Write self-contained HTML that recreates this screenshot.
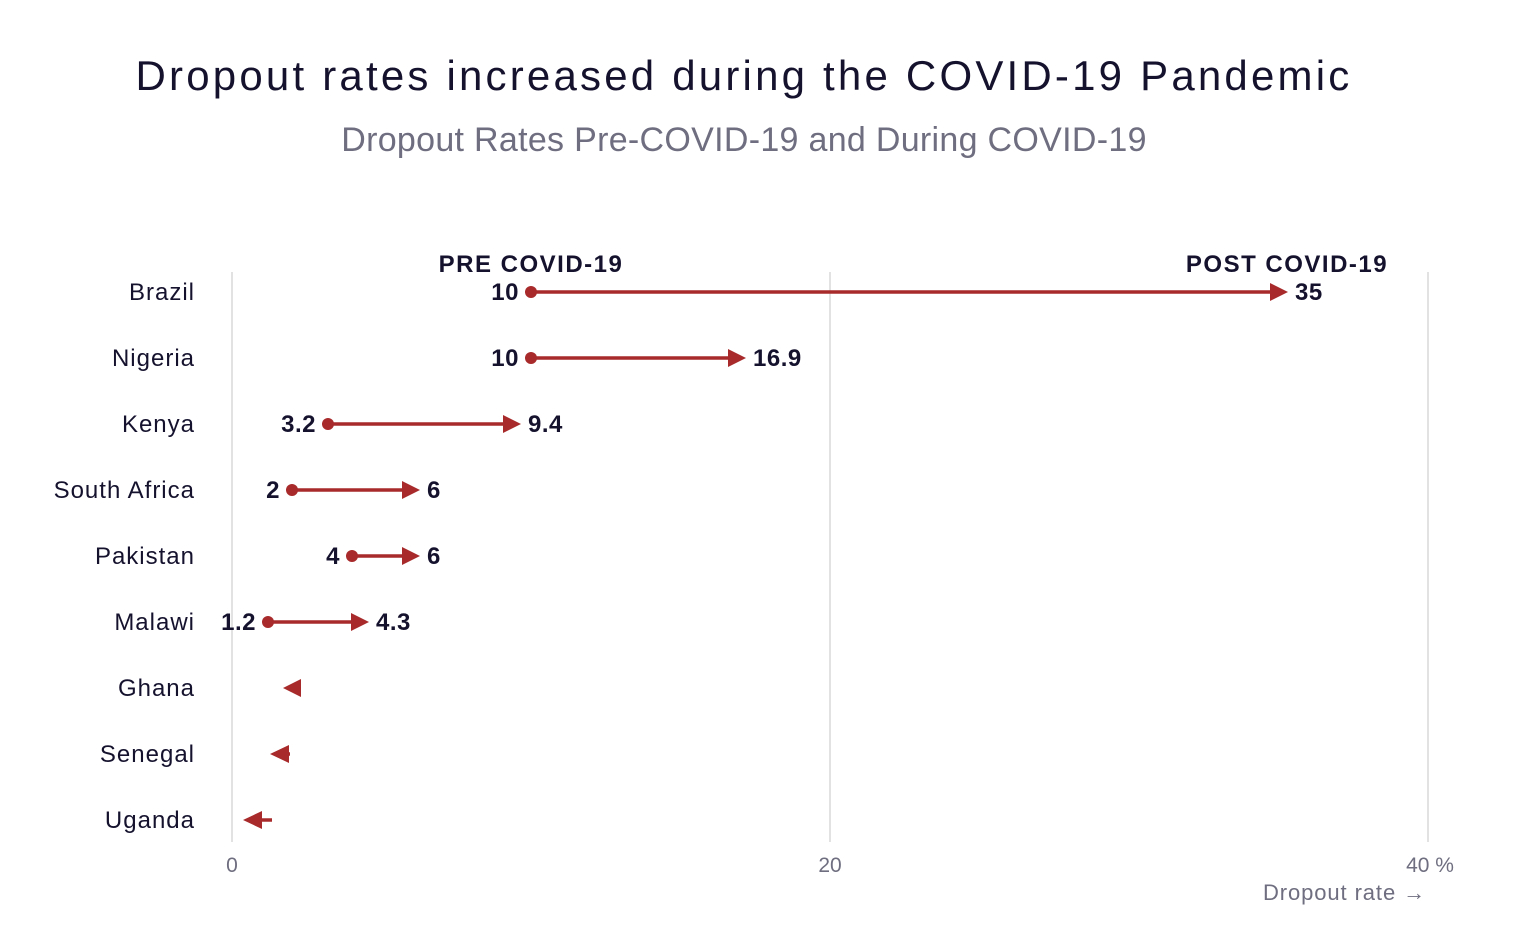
<!DOCTYPE html>
<html><head><meta charset="utf-8"><style>
html,body{margin:0;padding:0;background:#fff;}
svg{display:block;font-family:"Liberation Sans",sans-serif;}
</style></head><body>
<svg width="1532" height="934" viewBox="0 0 1532 934">
<text x="744" y="90" text-anchor="middle" font-size="42" fill="#15122e" letter-spacing="3.2">Dropout rates increased during the COVID-19 Pandemic</text>
<text x="744" y="151" text-anchor="middle" font-size="34" fill="#6e6e80" letter-spacing="0.3">Dropout Rates Pre-COVID-19 and During COVID-19</text>
<g stroke="#e2e2e2" stroke-width="2">
<line x1="232" y1="272" x2="232" y2="842"/>
<line x1="830" y1="272" x2="830" y2="842"/>
<line x1="1428" y1="272" x2="1428" y2="842"/>
</g>
<g font-size="21" fill="#6e6e80" text-anchor="middle">
<text x="232" y="872">0</text><text x="830" y="872">20</text><text x="1430" y="872">40 %</text>
<text x="1426" y="900" text-anchor="end" font-size="22" letter-spacing="0.9">Dropout rate →</text>
</g>
<g font-size="24" fill="#15122e" font-weight="bold" letter-spacing="1.5">
<text x="531" y="272" text-anchor="middle">PRE COVID-19</text>
<text x="1287" y="272" text-anchor="middle">POST COVID-19</text>
</g>
<g font-size="24" fill="#15122e" text-anchor="end" letter-spacing="1">
<text x="195" y="300">Brazil</text><text x="195" y="366">Nigeria</text><text x="195" y="432">Kenya</text>
<text x="195" y="498">South Africa</text><text x="195" y="564">Pakistan</text><text x="195" y="630">Malawi</text>
<text x="195" y="696">Ghana</text><text x="195" y="762">Senegal</text><text x="195" y="828">Uganda</text>
</g>
<g stroke="#a82a2a" stroke-width="3.5" fill="#a82a2a">
<line x1="531" y1="292" x2="1272" y2="292"/><circle cx="531" cy="292" r="6" stroke="none"/><polygon points="1270,283 1288,292 1270,301" stroke="none"/>
<line x1="531" y1="358" x2="730" y2="358"/><circle cx="531" cy="358" r="6" stroke="none"/><polygon points="728,349 746,358 728,367" stroke="none"/>
<line x1="328" y1="424" x2="505" y2="424"/><circle cx="328" cy="424" r="6" stroke="none"/><polygon points="503,415 521,424 503,433" stroke="none"/>
<line x1="292" y1="490" x2="403" y2="490"/><circle cx="292" cy="490" r="6" stroke="none"/><polygon points="402,481 420,490 402,499" stroke="none"/>
<line x1="352" y1="556" x2="403" y2="556"/><circle cx="352" cy="556" r="6" stroke="none"/><polygon points="402,547 420,556 402,565" stroke="none"/>
<line x1="268" y1="622" x2="352" y2="622"/><circle cx="268" cy="622" r="6" stroke="none"/><polygon points="351,613 369,622 351,631" stroke="none"/>
<polygon points="283,688 301,679 301,697" stroke="none"/>
<line x1="285" y1="754" x2="290" y2="754"/><polygon points="270,754 289,745 289,763" stroke="none"/>
<line x1="258" y1="820" x2="272" y2="820"/><polygon points="243,820 262,811 262,829" stroke="none"/>
</g>
<g font-size="24" fill="#15122e" font-weight="bold" letter-spacing="0.5">
<text x="519" y="300" text-anchor="end">10</text><text x="1295" y="300">35</text>
<text x="519" y="366" text-anchor="end">10</text><text x="753" y="366">16.9</text>
<text x="316" y="432" text-anchor="end">3.2</text><text x="528" y="432">9.4</text>
<text x="280" y="498" text-anchor="end">2</text><text x="427" y="498">6</text>
<text x="340" y="564" text-anchor="end">4</text><text x="427" y="564">6</text>
<text x="256" y="630" text-anchor="end">1.2</text><text x="376" y="630">4.3</text>
</g>
</svg>
</body></html>
